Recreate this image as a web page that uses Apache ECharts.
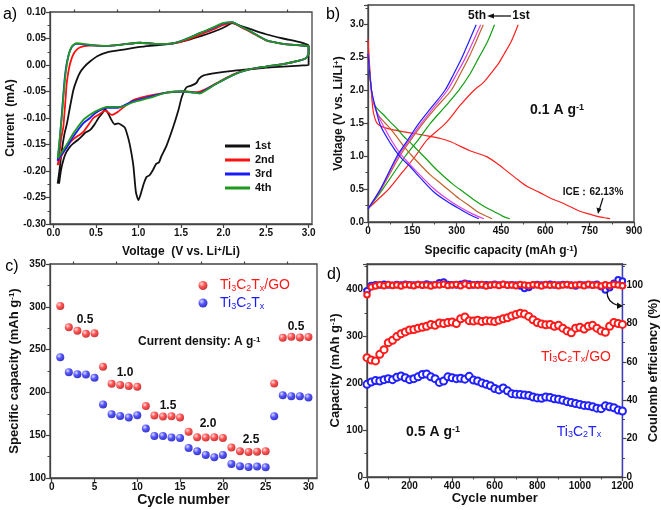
<!DOCTYPE html>
<html><head><meta charset="utf-8">
<script src="https://cdn.jsdelivr.net/npm/echarts@6/dist/echarts.min.js"></script>
<style>html,body{margin:0;padding:0;background:#fff}#c{width:661px;height:510px}#err{position:absolute;left:380px;top:300px;width:240px;font:10px monospace;color:#c00;white-space:pre-wrap}</style>
</head><body><div id="c"></div><div id="err"></div>
<script>
window.onerror = function(m){ document.getElementById('err').textContent += 'ERR: ' + m + '\n'; };
// ---------- Panel a: CV curves [voltage, current] ----------
const cv1st = [[0.05,-0.224],[0.07,-0.2],[0.1,-0.16],[0.13,-0.13],[0.16,-0.11],[0.2,-0.075],[0.235,-0.047],[0.27,-0.03],[0.31,-0.015],[0.36,-0.004],[0.43,0.0065],[0.52,0.017],[0.63,0.024],[0.82,0.029],[1.02,0.034],[1.2,0.037],[1.41,0.041],[1.6,0.048],[1.8,0.058],[1.95,0.067],[2.03,0.073],[2.1,0.079],[2.2,0.074],[2.31,0.068],[2.5,0.058],[2.7,0.05],[2.9,0.043],[2.99,0.038],[3.0,0.036],[3.0,0.0],[2.9,-0.001],[2.7,-0.003],[2.5,-0.005],[2.31,-0.008],[2.11,-0.011],[1.92,-0.015],[1.76,-0.02],[1.71,-0.026],[1.68,-0.034],[1.62,-0.039],[1.565,-0.042],[1.51,-0.06],[1.47,-0.085],[1.41,-0.116],[1.33,-0.152],[1.27,-0.172],[1.24,-0.184],[1.21,-0.186],[1.17,-0.198],[1.13,-0.208],[1.096,-0.211],[1.06,-0.225],[1.04,-0.236],[1.0,-0.255],[0.97,-0.24],[0.94,-0.19],[0.91,-0.16],[0.88,-0.138],[0.84,-0.118],[0.8,-0.113],[0.76,-0.11],[0.72,-0.112],[0.68,-0.103],[0.64,-0.09],[0.607,-0.084],[0.57,-0.092],[0.53,-0.1],[0.48,-0.113],[0.43,-0.123],[0.38,-0.127],[0.33,-0.135],[0.29,-0.141],[0.235,-0.148],[0.196,-0.154],[0.15,-0.165],[0.12,-0.178],[0.09,-0.198],[0.067,-0.224]];
const cv2nd = [[0.05,-0.189],[0.07,-0.17],[0.09,-0.14],[0.117,-0.116],[0.14,-0.07],[0.157,-0.034],[0.185,-0.005],[0.216,0.013],[0.245,0.023],[0.275,0.029],[0.31,0.033],[0.35,0.035],[0.47,0.037],[0.63,0.036],[0.82,0.039],[1.02,0.042],[1.2,0.040],[1.41,0.041],[1.56,0.047],[1.72,0.057],[1.88,0.067],[1.99,0.075],[2.1,0.080],[2.2,0.072],[2.31,0.063],[2.4,0.055],[2.47,0.049],[2.52,0.045],[2.6,0.043],[2.7,0.04],[2.9,0.037],[3.0,0.035],[3.0,0.022],[2.97,0.013],[2.9,0.0085],[2.7,0.0016],[2.5,-0.003],[2.31,-0.008],[2.11,-0.018],[1.92,-0.034],[1.8,-0.045],[1.72,-0.05],[1.65,-0.051],[1.525,-0.05],[1.33,-0.052],[1.13,-0.058],[0.94,-0.066],[0.86,-0.075],[0.76,-0.088],[0.685,-0.094],[0.61,-0.086],[0.53,-0.094],[0.47,-0.1],[0.352,-0.126],[0.235,-0.14],[0.157,-0.154],[0.1,-0.17],[0.07,-0.18],[0.05,-0.189]];
const cv3rd = [[0.05,-0.181],[0.07,-0.15],[0.09,-0.11],[0.11,-0.07],[0.13,-0.03],[0.15,-0.003],[0.18,0.02],[0.21,0.032],[0.235,0.037],[0.27,0.04],[0.31,0.040],[0.35,0.039],[0.47,0.037],[0.63,0.036],[0.82,0.039],[1.02,0.042],[1.2,0.040],[1.41,0.041],[1.56,0.049],[1.72,0.06],[1.88,0.07],[1.99,0.078],[2.1,0.081],[2.2,0.073],[2.31,0.064],[2.5,0.047],[2.7,0.04],[2.9,0.037],[3.0,0.035],[3.0,0.022],[2.97,0.013],[2.9,0.0085],[2.7,0.0016],[2.5,-0.003],[2.31,-0.008],[2.11,-0.019],[1.92,-0.035],[1.8,-0.046],[1.72,-0.053],[1.65,-0.052],[1.525,-0.05],[1.33,-0.052],[1.13,-0.06],[0.94,-0.068],[0.82,-0.077],[0.74,-0.081],[0.63,-0.081],[0.5,-0.09],[0.43,-0.1],[0.35,-0.11],[0.235,-0.135],[0.157,-0.155],[0.1,-0.168],[0.07,-0.175],[0.05,-0.181]];
const cv4th = [[0.05,-0.176],[0.07,-0.145],[0.085,-0.12],[0.098,-0.1],[0.117,-0.06],[0.137,-0.025],[0.157,0.0],[0.176,0.016],[0.196,0.028],[0.216,0.035],[0.245,0.039],[0.275,0.041],[0.35,0.040],[0.47,0.037],[0.63,0.036],[0.82,0.039],[1.02,0.042],[1.2,0.040],[1.41,0.041],[1.56,0.049],[1.72,0.06],[1.88,0.071],[1.99,0.079],[2.1,0.081],[2.2,0.073],[2.31,0.064],[2.5,0.047],[2.7,0.04],[2.9,0.037],[3.0,0.035],[3.0,0.022],[2.97,0.013],[2.9,0.0085],[2.7,0.0016],[2.5,-0.003],[2.31,-0.008],[2.11,-0.019],[1.92,-0.035],[1.8,-0.047],[1.72,-0.054],[1.65,-0.052],[1.525,-0.05],[1.33,-0.052],[1.13,-0.062],[0.94,-0.07],[0.82,-0.078],[0.72,-0.079],[0.63,-0.079],[0.5,-0.087],[0.43,-0.094],[0.35,-0.104],[0.235,-0.129],[0.157,-0.15],[0.1,-0.164],[0.07,-0.171],[0.05,-0.176]];
const cvNames = ['1st','2nd','3rd','4th'];

// ---------- Panel b: charge/discharge [capacity, voltage] ----------
const dis1 = [[0,2.78],[3,2.55],[8,2.2],[13.5,1.85],[19,1.65],[28,1.52],[36,1.48],[53,1.44],[87,1.40],[121,1.37],[155,1.35],[200,1.31],[245,1.27],[280,1.22],[313,1.15],[347,1.08],[380,1.03],[403,0.99],[437,0.89],[471,0.77],[505,0.65],[539,0.54],[580,0.45],[618,0.36],[652,0.30],[690,0.22],[719,0.16],[750,0.12],[776,0.086],[800,0.065],[819,0.05]];
const ch1 = [[0,0.2],[35,0.35],[70,0.5],[115,0.75],[160,1.0],[200,1.25],[262,1.5],[313,1.78],[358,2.0],[390,2.12],[414,2.25],[440,2.4],[460,2.55],[485,2.75],[508,3.0]];
const dis2 = [[0,2.56],[5,2.3],[12,2.0],[20,1.8],[36,1.70],[55,1.62],[75.6,1.52],[100,1.41],[121,1.30],[145,1.2],[166,1.10],[195,0.97],[222,0.84],[255,0.7],[290,0.565],[325,0.45],[358,0.34],[392,0.24],[426,0.16],[455,0.09],[480,0.05]];
const ch2 = [[0,0.2],[50,0.5],[126,1.0],[170,1.25],[211,1.5],[260,1.75],[307,2.0],[345,2.25],[375,2.5],[405,2.75],[428,3.0]];
const dis3 = [[0,2.56],[5,2.3],[12,2.0],[20,1.8],[36,1.62],[55,1.52],[75.6,1.42],[100,1.28],[121,1.15],[150,1.0],[177,0.87],[210,0.72],[245,0.59],[280,0.46],[313,0.34],[345,0.24],[369,0.16],[395,0.1],[420,0.05]];
const ch3 = [[0,0.2],[45,0.5],[107,1.0],[145,1.25],[186,1.5],[232,1.75],[281,2.0],[312,2.25],[341,2.5],[366,2.75],[390,3.0]];
const dis4 = [[0,2.56],[5,2.3],[12,2.0],[20,1.8],[30,1.66],[45,1.52],[75.6,1.27],[109,1.04],[143,0.87],[177,0.71],[222,0.51],[268,0.35],[313,0.22],[355,0.12],[392,0.05]];
const ch4 = [[0,0.2],[43,0.5],[102,1.0],[140,1.25],[180,1.5],[224,1.75],[268,2.0],[300,2.25],[330,2.5],[356,2.75],[381,3.0]];
const dis5 = [[0,2.56],[5,2.3],[12,2.0],[24.7,1.75],[41.7,1.47],[75.6,1.20],[109,0.99],[143,0.84],[177,0.67],[222,0.46],[268,0.31],[313,0.19],[345,0.11],[375,0.05]];
const ch5 = [[0,0.2],[42,0.5],[98,1.0],[135,1.25],[172,1.5],[216,1.75],[260,2.0],[290,2.25],[318,2.5],[342,2.75],[366,3.0]];

// ---------- Panel c: rate performance ----------
const rateCycles = [1,2,3,4,5,6,7,8,9,10,11,12,13,14,15,16,17,18,19,20,21,22,23,24,25,26,27,28,29,30];
const rateGO = [301,276,272,268.5,269,230,210,208.5,207.6,206.5,184,173,171.8,172,170.6,154,147.6,147.2,147.6,146.8,135.5,131.2,130.4,130.8,131.2,210.4,263.8,265,264.2,264.6];
const rateTi = [241,223.6,221.3,220.9,217,186,174.5,172.5,170.6,173.3,157.7,149.1,149.1,147.2,146.8,135,131.2,126.9,124.2,126.9,116.4,113.7,112.9,113.3,112.5,172.2,196.7,195.5,195.5,194];
const rateLabels = ['0.5','1.0','1.5','2.0','2.5','0.5'];

// ---------- Panel d: long cycling ----------
const cycD = [0,20,40,60,80,100,120,140,160,180,200,220,240,260,280,300,320,340,360,380,400,420,440,460,480,500,520,540,560,580,600,620,640,660,680,700,720,740,760,780,800,820,840,860,880,900,920,940,960,980,1000,1020,1040,1060,1080,1100,1120,1140,1160,1180,1200];
const capGO = [255,250,248,262,272,287,292,300,306,310,314,315,318,320,322,326,324,329,328,330,331,328,338,342,334,333,335,332,334,333,332,335,338,340,344,347,350,348,343,336,330,327,325,326,322,324,318,312,308,318,320,316,322,324,318,312,309,322,330,328,326];
const capTi = [198,203,206,205,208,210,208,213,216,212,208,210,214,219,220,214,210,202,205,214,212,210,211,209,215,207,205,201,198,195,189,186,190,184,178,177,176,175,174,171,169,168,171,170,167,166,164,161,159,157,155,153,152,150,147,146,152,150,148,143,141];
const ceGO = [95,99,99.6,100.2,99.7,100.3,99.8,100.1,99.6,100.2,100,99.7,100.3,99.9,100.1,99.6,100.2,100,100.4,99.8,100,100.3,99.7,100.6,99.8,100.2,99.9,100.3,99.6,100.1,100.2,99.8,100.4,99.9,100.1,99.7,100.3,100,99.8,100.2,100,99.6,100.3,99.9,100.2,99.7,100.1,100.3,99.8,100,100.2,99.7,100.4,99.9,100.1,99.6,100.2,99.8,100.3,100,99.7];
const ceTi = [97,99.8,100.2,100,100.4,100.1,99.9,100.3,100,100.5,100.2,100,100.3,100.1,100.6,100,100.2,101.2,101.6,100.3,100.2,100.1,100.4,101,100.6,100,100.3,100.1,100.2,100,100.4,100.1,100.3,100,100.2,100.1,99.6,98.2,98.8,100.1,100.3,100,100.2,100.4,100.1,100,100.3,100.2,100,99.6,100.3,100.1,100.2,100,100.4,99.2,97.5,98.6,101,102.8,102.2];

// ---------- tick values ----------
const ticksAx = [0,0.5,1,1.5,2,2.5,3];
const ticksAxMinor = [0.25,0.75,1.25,1.75,2.25,2.75];
const ticksCx = [0,5,10,15,20,25,30];
const ticksCxMinor = [2.5,7.5,12.5,17.5,22.5,27.5];

const FONT = "'Liberation Sans', Arial, Helvetica, sans-serif";
const AX = '#444';
const RICH = (s) => ({
  sup: {fontSize: Math.round(s*0.65), fontWeight:'bold', fontFamily: FONT, verticalAlign:'top', lineHeight: Math.round(s*0.65)},
  sb: {fontSize: Math.round(s*0.65), fontFamily: FONT, verticalAlign:'bottom', lineHeight: Math.round(s*0.65)}
});
const zip = (a,b) => a.map((v,i)=>[v,b[i]]);

function axis(o) {
  const base = {
    type:'value', splitLine:{show:false},
    axisLine:{show:true, onZero:false, lineStyle:{color:AX, width:1.3}},
    axisTick:{show:true, length:4, lineStyle:{color:AX, width:1.2}},
    minorTick:{show:true, splitNumber:2, length:2.5, lineStyle:{color:AX, width:1}},
    axisLabel:{color:'#111', fontSize:10, fontWeight:'bold', fontFamily:FONT, margin:4, hideOverlap:false},
    nameLocation:'middle',
    nameTextStyle:{color:'#111', fontSize:12, fontWeight:'bold', fontFamily:FONT, rich:RICH(12)}
  };
  for (const k in o) {
    if (o[k] && typeof o[k]==='object' && !Array.isArray(o[k]) && base[k] && typeof base[k]==='object') base[k] = Object.assign({}, base[k], o[k]);
    else base[k] = o[k];
  }
  return base;
}
const fmt = (d, step) => (v) => (Math.abs(v/step - Math.round(v/step)) < 1e-6 ? v.toFixed(d) : '');

const grids = [
  {left:50, top:12, width:262, height:212},
  {left:368, top:5, width:266, height:217},
  {left:50, top:264, width:267, height:214},
  {left:367, top:264, width:260, height:213}
].map(g => Object.assign({show:true, borderColor:AX, borderWidth:1.3, backgroundColor:'transparent'}, g));

const xAxis = [
  axis({gridIndex:0, min:-0.04, max:3.04, name:'Voltage  (V vs. Li{sup|+}/Li)', nameGap:22,
        axisTick:{customValues:ticksAx}, axisLabel:{customValues:ticksAx, formatter:(v)=>v.toFixed(1)}, minorTick:{show:false}}),
  axis({gridIndex:0, min:-0.04, max:3.04, axisLine:{show:false}, axisLabel:{show:false}, minorTick:{show:false},
        axisTick:{customValues:ticksAxMinor, length:2.5}}),
  axis({gridIndex:1, min:0, max:900, interval:150, name:'Specific capacity (mAh g{sup|-1})', nameGap:23, axisLabel:{formatter:fmt(0,150)}}),
  axis({gridIndex:2, min:-0.2, max:31, name:'Cycle number', nameGap:15,
        nameTextStyle:{fontSize:14, rich:RICH(14)},
        axisTick:{customValues:ticksCx}, axisLabel:{customValues:ticksCx}, minorTick:{show:false}}),
  axis({gridIndex:2, min:-0.2, max:31, axisLine:{show:false}, axisLabel:{show:false}, minorTick:{show:false},
        axisTick:{customValues:ticksCxMinor, length:2.5}}),
  axis({gridIndex:3, min:0, max:1200, interval:200, name:'Cycle number', nameGap:15,
        nameTextStyle:{fontSize:13, rich:RICH(13)}, axisLabel:{formatter:fmt(0,200)}}),
  axis({gridIndex:3, position:'top', min:0, max:1200, axisTick:{show:false}, minorTick:{show:false}, axisLabel:{show:false}})
];
const yAxis = [
  axis({gridIndex:0, min:-0.3, max:0.1, interval:0.05, name:'Current  (mA)', nameGap:33, axisLabel:{formatter:fmt(2,0.05)}}),
  axis({gridIndex:1, min:0, max:3.3, interval:0.5, name:'Voltage (V vs. Li/Li{sup|+})', nameGap:23, axisLabel:{formatter:fmt(1,0.5)}}),
  axis({gridIndex:2, min:100, max:350, interval:50, name:'Specific capacity (mAh g{sup|-1})', nameGap:29,
        nameTextStyle:{fontSize:13, rich:RICH(13)}}),
  axis({gridIndex:3, min:0, max:455, interval:100, name:'Capacity (mAh g{sup|-1})', nameGap:25,
        nameTextStyle:{fontSize:13, rich:RICH(13)}, axisLabel:{formatter:fmt(0,100)}}),
  axis({gridIndex:3, position:'right', min:0, max:111, interval:20, name:'Coulomb efficiency (%)', nameGap:19, nameRotate:90,
        nameTextStyle:{fontSize:13, rich:RICH(13)}, axisLine:{lineStyle:{color:'#3c3ccc', width:1.3}}, axisLabel:{formatter:fmt(0,20)}})
];

const cvColors = ['#111111','#ff1010','#1a1aff','#1f9a1f'];
const cvData = [cv1st, cv2nd, cv3rd, cv4th];
const series = [];
cvData.forEach((d,i) => series.push({type:'line', name:cvNames[i], xAxisIndex:0, yAxisIndex:0, data:d, showSymbol:false, smooth:0.2,
  lineStyle:{color:cvColors[i], width:1.8}, itemStyle:{color:cvColors[i]}, silent:true}));

const bSets = [[dis1,ch1,'#ff2020'],[dis2,ch2,'#12a012'],[dis3,ch3,'#c0622a'],[dis4,ch4,'#e040e0'],[dis5,ch5,'#1f1fff']];
bSets.forEach((s,i) => [s[0],s[1]].forEach((d,j) => series.push({type:'line', name:'b'+i+'_'+j, xAxisIndex:2, yAxisIndex:1, data:d,
  showSymbol:false, smooth:0.3, lineStyle:{color:s[2], width:1.2}, itemStyle:{color:s[2]}, silent:true})));

const ball = (c0,c1,c2) => ({type:'radial', x:0.35, y:0.32, r:0.75, colorStops:[{offset:0,color:c0},{offset:0.45,color:c1},{offset:1,color:c2}]});
const redBall = ball('#ffd0d0','#ff2a2a','#b30000');
const blueBall = ball('#d0d0ff','#2a2aff','#0000a8');
series.push({type:'scatter', name:'Ti3C2Tx/GO', xAxisIndex:3, yAxisIndex:2, data:zip(rateCycles, rateGO), symbolSize:8, itemStyle:{color:redBall}});
series.push({type:'scatter', name:'Ti3C2Tx', xAxisIndex:3, yAxisIndex:2, data:zip(rateCycles, rateTi), symbolSize:8, itemStyle:{color:blueBall}});

const dLine = (name, yi, data, color, size, w) => ({type:'line', name, xAxisIndex:5, yAxisIndex:yi, data, symbol:'emptyCircle', symbolSize:size,
  showAllSymbol:true, lineStyle:{color, width:w}, itemStyle:{color, borderWidth:1.4}, silent:true});
series.push(dLine('dCeTi', 4, zip(cycD, ceTi), '#2020ff', 5.5, 2));
series.push(dLine('dCeGO', 4, zip(cycD, ceGO), '#ff1a1a', 5.5, 2));
series.push(dLine('dCapGO', 3, zip(cycD, capGO), '#ff1a1a', 7, 2.5));
series.push(dLine('dCapTi', 3, zip(cycD, capTi), '#2020ff', 7, 2.5));

function T(x, y, text, size, color, weight, align) {
  return {type:'text', x, y, silent:true, z:100, style:{text, fill:color, font:`${weight||'bold'} ${size}px ${FONT}`,
    textAlign:align||'center', textVerticalAlign:'middle', align:align||'center', verticalAlign:'middle', rich:RICH(size)}};
}
const tiGO = 'Ti{sb|3}C{sb|2}T{sb|x}/GO', ti = 'Ti{sb|3}C{sb|2}T{sb|x}';
const rateLabelPos = [[85,320],[125,373],[168,406],[208,424],[251,440],[296,327]];
const graphic = [
  T(10,15,'a)',16,'#000','normal'), T(333,15,'b)',16,'#000','normal'),
  T(12,267,'c)',16,'#000','normal'), T(334,275,'d)',16,'#000','normal'),
  T(477,16,'5th',12,'#111'), T(521,16,'1st',12,'#111'),
  {type:'line', silent:true, shape:{x1:492,y1:16,x2:511,y2:16}, style:{stroke:'#111', lineWidth:1.3}},
  {type:'polygon', silent:true, shape:{points:[[487,16],[494,13.5],[494,18.5]]}, style:{fill:'#111'}},
  T(557,110,'0.1 A g{sup|-1}',14,'#111'),
  T(593,192,'ICE：62.13%',10,'#111'),
  {type:'line', silent:true, shape:{x1:603,y1:198,x2:599.5,y2:209}, style:{stroke:'#111', lineWidth:1.2}},
  {type:'polygon', silent:true, shape:{points:[[598,214],[596.5,207.5],[601.5,209]]}, style:{fill:'#111'}},
  T(138,342,'Current density: A g{sup|-1}',12,'#111','bold','left'),
  T(576,357,tiGO,14,'#ff1a1a','normal'),
  T(579,432,ti,14,'#2020ff','normal'),
  T(433,432,'0.5 A g{sup|-1}',14,'#111'),
  {type:'bezierCurve', silent:true, z:100, shape:{x1:607,y1:292,cpx1:607,cpy1:302,x2:618,y2:305.5}, style:{stroke:'#111', lineWidth:1.3, fill:null}},
  {type:'polygon', silent:true, z:100, shape:{points:[[623,306],[617,302.5],[617,309]]}, style:{fill:'#111'}}
];
rateLabels.forEach((l,i) => graphic.push(T(rateLabelPos[i][0], rateLabelPos[i][1], l, 12, '#111')));

const chart = echarts.init(document.getElementById('c'), null, {renderer:'canvas'});
chart.setOption({
  animation:false, backgroundColor:'#fff',
  grid:grids, xAxis, yAxis, series, graphic,
  legend:[
    {left:225, top:139, orient:'vertical', data:cvNames, icon:'rect', itemWidth:25, itemHeight:3, itemGap:0, padding:0,
     selectedMode:false, textStyle:{fontSize:11, fontWeight:'bold', lineHeight:14, color:'#111', fontFamily:FONT}},
    {left:198.5, top:277.5, orient:'vertical', icon:'circle', itemWidth:24, itemHeight:9, itemGap:1.5, padding:0, selectedMode:false,
     data:[{name:'Ti3C2Tx/GO', textStyle:{color:'#ff1a1a'}}, {name:'Ti3C2Tx', textStyle:{color:'#1a1aff'}}],
     formatter:(n)=> n==='Ti3C2Tx/GO' ? tiGO : ti,
     textStyle:{fontSize:14, lineHeight:16, fontFamily:FONT, rich:RICH(14)}}
  ]
});
</script></body></html>
